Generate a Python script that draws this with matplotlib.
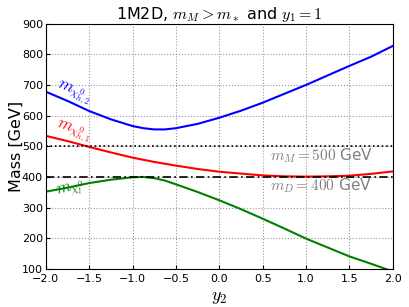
import matplotlib
matplotlib.use("Agg")
import matplotlib.pyplot as plt

plt.rcParams['mathtext.fontset'] = 'cm'

y2 = [-2.0, -1.75, -1.5, -1.25, -1.0, -0.875, -0.75, -0.625, -0.5, -0.25, 0.0,
      0.25, 0.5, 0.75, 1.0, 1.25, 1.5, 1.75, 2.0]
m_h2 = [678, 648, 615, 588, 566, 559, 555, 555, 559, 573, 593,
        616, 642, 671, 700, 731, 762, 792, 827]
m_h1 = [534, 517, 498, 480, 463, 456, 449, 443, 437, 426, 417,
        411, 405, 402, 401, 402, 404, 410, 418]
m_l = [352, 365, 380, 391, 399, 400, 396, 388, 376, 351, 324,
       295, 264, 232, 199, 170, 141, 117, 92]
m_M = 500
m_D = 400
xticks = [-2.0, -1.5, -1.0, -0.5, 0.0, 0.5, 1.0, 1.5, 2.0]
yticks = [100, 200, 300, 400, 500, 600, 700, 800, 900]

fig = plt.figure(figsize=(4.09, 3.07), dpi=100)
ax = fig.add_axes([0.112, 0.124, 0.848, 0.799])

ax.plot(y2, m_h2, color='b', lw=1.5)
ax.plot(y2, m_h1, color='r', lw=1.5)
ax.plot(y2, m_l, color='g', lw=1.5)
ax.axhline(m_M, color='k', ls=':', lw=1.2)
ax.axhline(m_D, color='k', ls='-.', lw=1.2, dashes=(5, 2, 1, 2))

ax.set_xlim(-2, 2)
ax.set_ylim(100, 900)
ax.set_xticks(xticks)
ax.set_xticklabels([f"{v:.1f}".replace('-', '\u2212') for v in xticks], fontsize=8)
ax.set_yticks(yticks)
ax.set_yticklabels([str(v) for v in yticks], fontsize=8)
ax.grid(True, color='0.6', ls=':', lw=0.8)
ax.tick_params(direction='in', length=3)
ax.tick_params(axis='y', pad=2)
ax.tick_params(axis='x', pad=3.5)

ax.set_title(r"1M2D, $m_M > m_*$ and $y_1 = 1$", fontsize=11.5, pad=3)
ax.set_xlabel(r"$y_2$", fontsize=13, labelpad=3)
ax.set_ylabel("Mass [GeV]", fontsize=11.5, va='center')
ax.yaxis.set_label_coords(-0.086, 0.5)

ax.text(-1.92, 672, r"$m_{\chi^0_{h,2}}$", color='b', fontsize=12, rotation=-22,
        ha='left', va='center')
ax.text(-1.92, 545, r"$m_{\chi^0_{h,1}}$", color='r', fontsize=12, rotation=-18,
        ha='left', va='center')
ax.text(-1.9, 358, r"$m_{\chi^0_l}$", color='g', fontsize=12, rotation=14,
        ha='left', va='center')
ax.text(0.59, 470, r"$m_M = 500$ GeV", color='0.5', fontsize=11, ha='left', va='center')
ax.text(0.59, 370, r"$m_D = 400$ GeV", color='0.5', fontsize=11, ha='left', va='center')

fig.savefig("out.png", dpi=100)
